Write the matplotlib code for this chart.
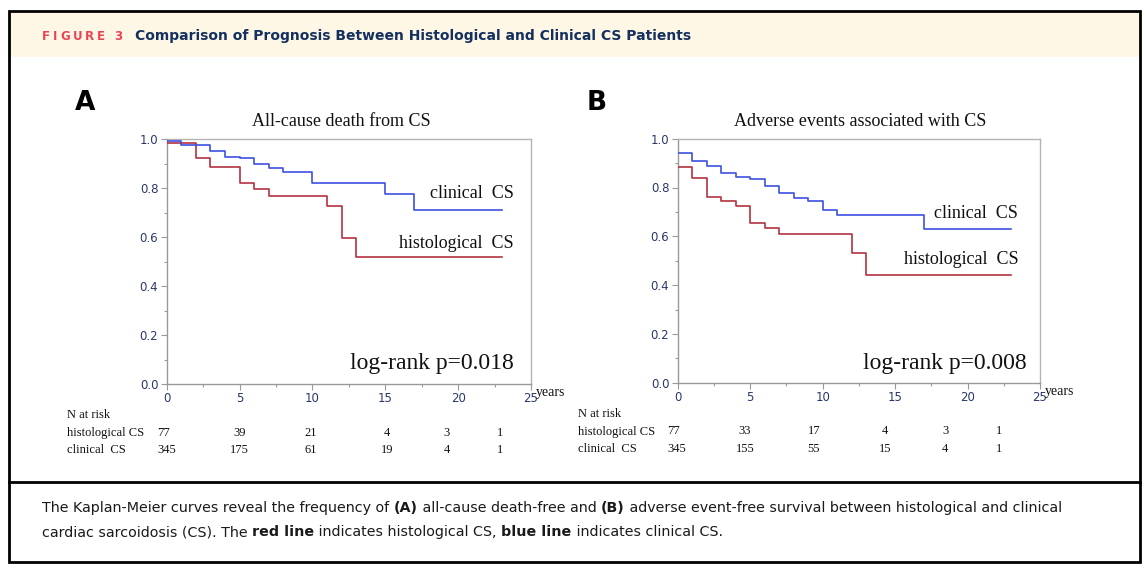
import matplotlib
matplotlib.use("Agg")
import matplotlib.pyplot as plt
from matplotlib.transforms import IdentityTransform
from matplotlib.patches import Rectangle
from matplotlib.lines import Line2D

W, H = 1146, 569

# ---- data ----
a_clin_t = [0, 1, 3, 4, 5, 6, 7, 8, 10, 15, 17, 23]
a_clin_s = [0.99, 0.975, 0.95, 0.928, 0.922, 0.897, 0.88, 0.864, 0.819, 0.774, 0.712, 0.712]
a_hist_t = [0, 2, 3, 5, 6, 7, 11, 12, 13, 23]
a_hist_s = [0.985, 0.924, 0.887, 0.819, 0.796, 0.769, 0.728, 0.595, 0.52, 0.52]

b_clin_t = [0, 1, 2, 3, 4, 5, 6, 7, 8, 9, 10, 11, 17, 23]
b_clin_s = [0.943, 0.908, 0.888, 0.861, 0.842, 0.836, 0.807, 0.776, 0.757, 0.744, 0.709, 0.689, 0.63, 0.63]
b_hist_t = [0, 1, 2, 3, 4, 5, 6, 7, 12, 13, 23]
b_hist_s = [0.882, 0.84, 0.76, 0.743, 0.724, 0.656, 0.632, 0.611, 0.531, 0.443, 0.443]

# numbers at risk
a_risk_hist = [77, 39, 21, 4, 3, 1]
a_risk_clin = [345, 175, 61, 19, 4, 1]
b_risk_hist = [77, 33, 17, 4, 3, 1]
b_risk_clin = [345, 155, 55, 15, 4, 1]

titles = ["All-cause death from CS", "Adverse events associated with CS"]
pvals = ["log-rank p=0.018", "log-rank p=0.008"]

BLUE = "#3c50e0"
RED = "#b2323f"
TICK = "#2a3868"
SERIF = "Liberation Serif"

fig = plt.figure(figsize=(W / 100, H / 100), dpi=100)
px = IdentityTransform()
rend = fig.canvas.get_renderer()

def P(x, y):
    return x, H - y

# frame + header band
fig.patches.append(Rectangle(P(10, 57), 1130, 45, transform=px, facecolor="#fef7e6",
                             edgecolor="none", zorder=0))
fig.patches.append(Rectangle(P(9, 562), 1131, 551, transform=px, facecolor="none",
                             edgecolor="black", linewidth=2, zorder=5))
fig.lines.append(Line2D([9, 1140], [H - 482, H - 482], transform=px, color="black", lw=2))

# letter-spaced "FIGURE 3"
x = 42
for ch in "FIGURE 3":
    t = fig.text(x, H - 36, ch, transform=px, color="#ea4452", fontsize=8.5,
                 fontweight="bold", family="DejaVu Sans", va="center")
    x += t.get_window_extent(rend).width + 2.8
fig.text(*P(135, 36), "Comparison of Prognosis Between Histological and Clinical CS Patients",
         transform=px, color="#14305e", fontsize=10, fontweight="bold",
         family="DejaVu Sans", va="center")

def runs(x, y, parts, size):
    for s, wgt in parts:
        t = fig.text(x, H - y, s, transform=px, fontsize=size, fontweight=wgt,
                     family="DejaVu Sans", color="#1a1a1a", va="center")
        x += t.get_window_extent(rend).width

runs(42, 508, [("The Kaplan-Meier curves reveal the frequency of ", "normal"), ("(A)", "bold"),
               (" all-cause death-free and ", "normal"), ("(B)", "bold"),
               (" adverse event-free survival between histological and clinical", "normal")], 10.3)
runs(42, 532, [("cardiac sarcoidosis (CS). The ", "normal"), ("red line", "bold"),
               (" indicates histological CS, ", "normal"), ("blue line", "bold"),
               (" indicates clinical CS.", "normal")], 10.3)

panels = [
    dict(box=(166.7, 139, 531, 384), letter=("A", 85, 103),
         clin=(a_clin_t, a_clin_s), hist=(a_hist_t, a_hist_s),
         risk=(a_risk_hist, a_risk_clin), rx=[-0.65, 5, 9.9, 15.1, 19.2, 22.9],
         lab_clin=(23.8, 0.776), lab_hist=(23.8, 0.575), p=(23.8, 0.082)),
    dict(box=(677.7, 138.7, 1040, 382.7), letter=("B", 597, 103),
         clin=(b_clin_t, b_clin_s), hist=(b_hist_t, b_hist_s),
         risk=(b_risk_hist, b_risk_clin), rx=[-0.7, 4.65, 9.4, 14.3, 18.45, 22.2],
         lab_clin=(23.5, 0.695), lab_hist=(23.55, 0.503), p=(24.1, 0.08)),
]

for i, pn in enumerate(panels):
    x0, y0, x1, y1 = pn["box"]
    ax = fig.add_axes([x0 / W, 1 - y1 / H, (x1 - x0) / W, (y1 - y0) / H])
    ax.step(*pn["hist"], where="post", color=RED, lw=1.2, zorder=3)
    ax.step(*pn["clin"], where="post", color=BLUE, lw=1.2, zorder=3)
    ax.set_xlim(0, 25)
    ax.set_ylim(0, 1)
    ax.set_xticks([0, 5, 10, 15, 20, 25])
    ax.set_xticks([2.5, 7.5, 12.5, 17.5, 22.5], minor=True)
    ax.set_yticks([0, 0.2, 0.4, 0.6, 0.8, 1.0])
    ax.set_yticks([0.1, 0.3, 0.5, 0.7, 0.9], minor=True)
    ax.set_yticklabels(["0.0", "0.2", "0.4", "0.6", "0.8", "1.0"])
    ax.tick_params(which="both", colors="#9a9a9a", labelcolor=TICK, labelsize=8.5)
    ax.tick_params(which="major", length=4, width=0.8, pad=2)
    ax.tick_params(which="minor", length=2.5, width=0.8)
    for sp in ax.spines.values():
        sp.set_color("#b4b4b4")
        sp.set_linewidth(1.0)
    ax.spines["left"].set_color("#999999")
    ax.spines["bottom"].set_color("#999999")

    ax.text(12.0 if i == 0 else 12.6, 1.07, titles[i], family=SERIF, fontsize=13,
            ha="center", va="center", clip_on=False, color="#111111")
    ax.text(*pn["lab_clin"], "clinical  CS", family=SERIF, fontsize=13, ha="right",
            va="center", color="#111111")
    ax.text(*pn["lab_hist"], "histological  CS", family=SERIF, fontsize=13, ha="right",
            va="center", color="#111111")
    ax.text(*pn["p"], pvals[i], family=SERIF, fontsize=17, ha="right", va="center",
            color="#111111")
    ax.text(25.35, -0.035, "years", family=SERIF, fontsize=10, ha="left", va="center",
            clip_on=False, color="#111111")

    # numbers at risk
    ax.text(-6.85, -0.127, "N at risk", family=SERIF, fontsize=9, va="center",
            clip_on=False, color="#111111")
    ax.text(-6.85, -0.2, "histological CS", family=SERIF, fontsize=9, va="center",
            clip_on=False, color="#111111")
    ax.text(-6.85, -0.27, "clinical  CS", family=SERIF, fontsize=9, va="center",
            clip_on=False, color="#111111")
    for row, yy in zip(pn["risk"], [-0.2, -0.27]):
        for j, (n, xx) in enumerate(zip(row, pn["rx"])):
            ax.text(xx, yy, str(n), family=SERIF, fontsize=9, va="center",
                    ha="left" if j == 0 else "center", clip_on=False, color="#111111")

    L, lx, ly = pn["letter"]
    fig.text(*P(lx, ly), L, transform=px, fontsize=19, fontweight="bold",
             family="DejaVu Sans", ha="center", va="center")

fig.savefig("out.png", dpi=100)
